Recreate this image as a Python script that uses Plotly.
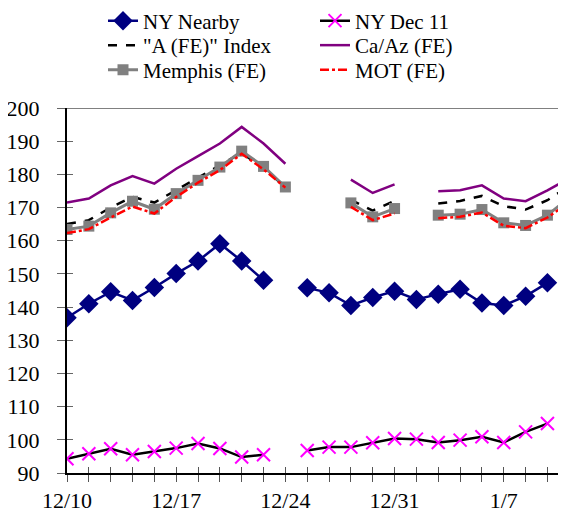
import plotly.graph_objects as go

dates = ["12/10", "12/13", "12/14", "12/15", "12/16", "12/17", "12/20", "12/21",
         "12/22", "12/23", "12/24", "12/27", "12/28", "12/29", "12/30", "12/31",
         "1/3", "1/4", "1/5", "1/6", "1/7", "1/10", "1/11", "1/12"]
label_dates = ["12/10", "12/17", "12/24", "12/31", "1/7"]

ny_nearby = [136.8, 141.0, 144.6, 142.0, 145.9, 150.1, 153.9, 159.1, 153.9, 148.1, None,
             145.8, 144.3, 140.5, 142.9, 144.8, 142.3, 143.9, 145.4, 141.2, 140.5, 143.3, 147.3, None]
ny_dec11 = [94.3, 95.8, 97.3, 95.5, 96.5, 97.5, 98.9, 97.4, 94.8, 95.5, None,
            96.8, 97.8, 97.8, 99.1, 100.4, 100.2, 99.2, 99.9, 100.9, 99.2, 102.4, 104.9, None]
a_index = [165.0, 166.2, 170.0, 173.2, 171.5, 175.2, 179.0, 182.7, 186.5, 181.8, 176.2,
           None, None, 172.3, 169.1, 172.0, None, 171.2, 172.0, 173.5, 170.4, 169.4, 172.2, 176.5]
ca_az = [171.5, 172.7, 176.7, 179.5, 177.2, 181.7, 185.5, 189.3, 194.3, 189.3, 183.2,
         None, None, 178.4, 174.4, 177.0, None, 174.9, 175.2, 176.7, 172.7, 171.9, 175.2, 178.8]
memphis = [163.4, 164.4, 168.4, 171.9, 169.5, 174.2, 178.2, 182.2, 187.0, 182.4, 176.2,
           None, None, 171.4, 167.2, 169.7, None, 167.7, 168.0, 169.4, 165.4, 164.6, 167.7, 173.0]
mot = [162.3, 163.5, 167.0, 170.3, 168.2, 173.2, 177.5, 181.3, 186.2, 181.5, 176.0,
       None, None, 170.2, 166.2, 168.2, None, 166.8, 167.2, 168.5, 164.5, 163.8, 167.0, 171.5]

y_ticks = list(range(90, 201, 10))

x = list(range(len(dates)))
ticktext = [d if d in label_dates else "" for d in dates]

FONT = "Times New Roman"

fig = go.Figure()
fig.add_trace(go.Scatter(x=x, y=ny_nearby, name="NY Nearby", mode="lines+markers",
                         legend="legend",
                         line=dict(color="#000080", width=2.5),
                         marker=dict(symbol="diamond", size=15, color="#000080")))
fig.add_trace(go.Scatter(x=x, y=ny_dec11, name="NY Dec 11", mode="lines+markers",
                         legend="legend",
                         line=dict(color="black", width=2.5),
                         marker=dict(symbol="x-thin", size=13,
                                     line=dict(color="#FF00FF", width=2), color="#FF00FF")))
fig.add_trace(go.Scatter(x=x, y=a_index, name="\"A (FE)\" Index", mode="lines",
                         legend="legend2",
                         line=dict(color="black", width=2.5, dash="dash")))
fig.add_trace(go.Scatter(x=x, y=ca_az, name="Ca/Az (FE)", mode="lines",
                         legend="legend2",
                         line=dict(color="#800080", width=2.5)))
fig.add_trace(go.Scatter(x=x, y=memphis, name="Memphis (FE)", mode="lines+markers",
                         legend="legend3",
                         line=dict(color="#808080", width=3),
                         marker=dict(symbol="square", size=11, color="#808080")))
fig.add_trace(go.Scatter(x=x, y=mot, name="MOT (FE)", mode="lines",
                         legend="legend3",
                         line=dict(color="#FF0000", width=2.5, dash="dashdot")))
# overlay axes carrier for inner tick marks
fig.add_trace(go.Scatter(x=[], y=[], xaxis="x2", yaxis="y2", showlegend=False,
                         hoverinfo="skip"))

xr = [0, 22.85]
yr = [90, 200]

# page body adds an 8px offset; figure coordinates below compensate for it
OFF = 8


def leg(yc):
    return dict(orientation="h", xref="container", yref="container",
                x=95 / 566, y=1 - (yc - OFF) / 510, xanchor="left", yanchor="middle",
                entrywidth=167, entrywidthmode="pixels",
                bgcolor="rgba(0,0,0,0)", itemwidth=30,
                font=dict(family=FONT, size=21, color="black"))


fig.update_layout(
    width=566, height=510,
    margin=dict(l=67 - OFF, r=OFF, t=108 - OFF, b=37 + OFF, autoexpand=False),
    paper_bgcolor="white", plot_bgcolor="white",
    font=dict(family=FONT, size=22, color="black"),
    showlegend=True,
    legend=leg(21), legend2=leg(45.5), legend3=leg(70),
    xaxis=dict(range=xr, tickmode="array", tickvals=x, ticktext=ticktext,
               ticks="outside", ticklen=7, tickcolor="#555", tickwidth=1,
               ticklabelstandoff=0,
               showline=True, linecolor="black", linewidth=2,
               showgrid=False, zeroline=False,
               tickfont=dict(family=FONT, size=22, color="black")),
    yaxis=dict(range=yr, tickmode="array", tickvals=y_ticks,
               ticks="outside", ticklen=8, tickcolor="#666", tickwidth=1,
               ticklabelstandoff=13,
               showline=True, linecolor="black", linewidth=2,
               showgrid=False, zeroline=False,
               tickfont=dict(family=FONT, size=22, color="black")),
    xaxis2=dict(range=xr, overlaying="x", anchor="y2", side="bottom",
                tickmode="array", tickvals=x, ticks="inside", ticklen=6,
                tickcolor="#555", tickwidth=1, showticklabels=False,
                showgrid=False, zeroline=False, showline=False),
    yaxis2=dict(range=yr, overlaying="y", anchor="x2", side="left",
                tickmode="array", tickvals=y_ticks, ticks="inside", ticklen=6,
                tickcolor="#666", tickwidth=1, showticklabels=False,
                showgrid=False, zeroline=False, showline=False),
    shapes=[dict(type="line", xref="paper", yref="y", x0=0, x1=1, y0=200, y1=200,
                 line=dict(color="#808080", width=2), layer="below")],
)

fig.write_html("out.html")
